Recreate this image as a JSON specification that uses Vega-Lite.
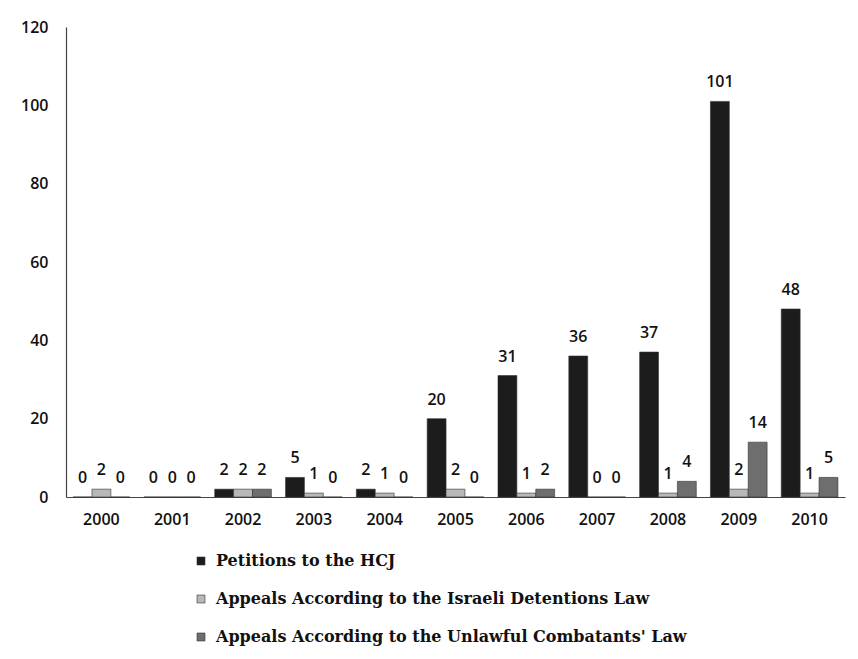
{
  "$schema": "https://vega.github.io/schema/vega-lite/v6.json",
  "width": 779,
  "height": 470,
  "autosize": {"type": "none"},
  "padding": {"left": 66, "top": 27, "right": 13, "bottom": 162},
  "background": "white",
  "config": {
    "view": {"stroke": null},
    "font": "Open Sans"
  },
  "data": {
    "values": [
      {"year": "2000", "series": "Petitions to the HCJ", "value": 0},
      {"year": "2000", "series": "Appeals According to the Israeli Detentions Law", "value": 2},
      {"year": "2000", "series": "Appeals According to the Unlawful Combatants' Law", "value": 0},
      {"year": "2001", "series": "Petitions to the HCJ", "value": 0},
      {"year": "2001", "series": "Appeals According to the Israeli Detentions Law", "value": 0},
      {"year": "2001", "series": "Appeals According to the Unlawful Combatants' Law", "value": 0},
      {"year": "2002", "series": "Petitions to the HCJ", "value": 2},
      {"year": "2002", "series": "Appeals According to the Israeli Detentions Law", "value": 2},
      {"year": "2002", "series": "Appeals According to the Unlawful Combatants' Law", "value": 2},
      {"year": "2003", "series": "Petitions to the HCJ", "value": 5},
      {"year": "2003", "series": "Appeals According to the Israeli Detentions Law", "value": 1},
      {"year": "2003", "series": "Appeals According to the Unlawful Combatants' Law", "value": 0},
      {"year": "2004", "series": "Petitions to the HCJ", "value": 2},
      {"year": "2004", "series": "Appeals According to the Israeli Detentions Law", "value": 1},
      {"year": "2004", "series": "Appeals According to the Unlawful Combatants' Law", "value": 0},
      {"year": "2005", "series": "Petitions to the HCJ", "value": 20},
      {"year": "2005", "series": "Appeals According to the Israeli Detentions Law", "value": 2},
      {"year": "2005", "series": "Appeals According to the Unlawful Combatants' Law", "value": 0},
      {"year": "2006", "series": "Petitions to the HCJ", "value": 31},
      {"year": "2006", "series": "Appeals According to the Israeli Detentions Law", "value": 1},
      {"year": "2006", "series": "Appeals According to the Unlawful Combatants' Law", "value": 2},
      {"year": "2007", "series": "Petitions to the HCJ", "value": 36},
      {"year": "2007", "series": "Appeals According to the Israeli Detentions Law", "value": 0},
      {"year": "2007", "series": "Appeals According to the Unlawful Combatants' Law", "value": 0},
      {"year": "2008", "series": "Petitions to the HCJ", "value": 37},
      {"year": "2008", "series": "Appeals According to the Israeli Detentions Law", "value": 1},
      {"year": "2008", "series": "Appeals According to the Unlawful Combatants' Law", "value": 4},
      {"year": "2009", "series": "Petitions to the HCJ", "value": 101},
      {"year": "2009", "series": "Appeals According to the Israeli Detentions Law", "value": 2},
      {"year": "2009", "series": "Appeals According to the Unlawful Combatants' Law", "value": 14},
      {"year": "2010", "series": "Petitions to the HCJ", "value": 48},
      {"year": "2010", "series": "Appeals According to the Israeli Detentions Law", "value": 1},
      {"year": "2010", "series": "Appeals According to the Unlawful Combatants' Law", "value": 5}
    ]
  },
  "encoding": {
    "x": {
      "field": "year", "type": "nominal", "title": null,
      "scale": {"paddingInner": 0.2, "paddingOuter": 0.1},
      "axis": {"labelAngle": 0, "labelFontSize": 16, "labelFontWeight": 600, "labelColor": "#111", "ticks": false, "labelPadding": 14, "domainColor": "#444", "domainWidth": 1.2}
    },
    "xOffset": {
      "field": "series", "type": "nominal",
      "sort": ["Petitions to the HCJ", "Appeals According to the Israeli Detentions Law", "Appeals According to the Unlawful Combatants' Law"],
      "scale": {"paddingInner": 0}
    },
    "y": {
      "field": "value", "type": "quantitative", "title": null,
      "scale": {"domain": [0, 120]},
      "axis": {"values": [0, 20, 40, 60, 80, 100, 120], "grid": false, "ticks": false, "labelFontSize": 16, "labelFontWeight": 600, "labelColor": "#111", "labelPadding": 18, "domainColor": "#444", "domainWidth": 1.2}
    }
  },
  "layer": [
    {
      "mark": {"type": "bar", "stroke": "#333", "strokeWidth": 0.6},
      "encoding": {
        "color": {
          "field": "series", "type": "nominal",
          "sort": ["Petitions to the HCJ", "Appeals According to the Israeli Detentions Law", "Appeals According to the Unlawful Combatants' Law"],
          "scale": {
            "domain": ["Petitions to the HCJ", "Appeals According to the Israeli Detentions Law", "Appeals According to the Unlawful Combatants' Law"],
            "range": ["#1c1c1c", "#b8b8b8", "#6e6e6e"]
          },
          "legend": {
            "title": null,
            "orient": "none",
            "legendX": 127,
            "legendY": 526,
            "padding": 0,
            "direction": "vertical",
            "symbolType": "square",
            "symbolSize": 64,
            "symbolStrokeColor": "#333",
            "symbolStrokeWidth": 0.6,
            "labelFont": "DejaVu Serif",
            "labelFontSize": 16,
            "labelFontWeight": "bold",
            "labelColor": "#111",
            "labelLimit": 700,
            "rowPadding": 22,
            "labelOffset": 7
          }
        }
      }
    },
    {
      "mark": {"type": "text", "dy": -19, "fontSize": 16, "fontWeight": 600, "color": "#111"},
      "encoding": {"text": {"field": "value", "type": "quantitative"}}
    }
  ]
}
